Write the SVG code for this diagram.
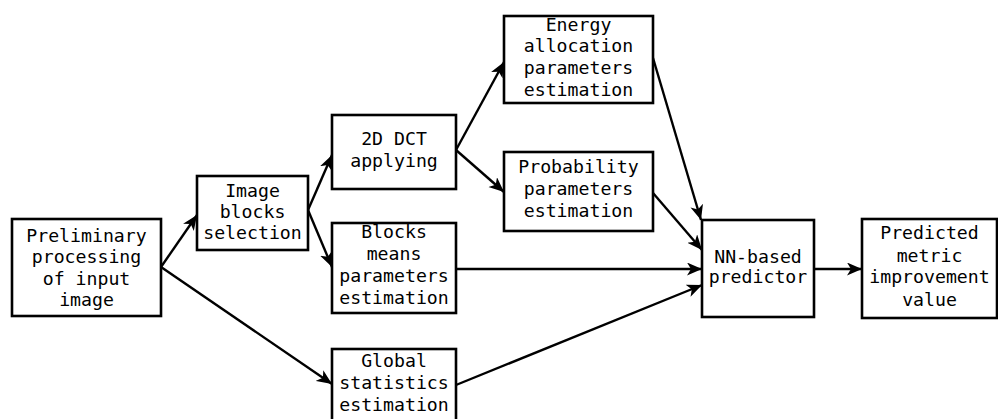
<svg xmlns="http://www.w3.org/2000/svg" width="998" height="419" viewBox="0 0 998 419">
<defs>
<style>
.box{fill:#fff;stroke:#000;stroke-width:2.6}
.t{font-family:"DejaVu Sans Mono","Liberation Mono",monospace;font-size:18.2px;fill:#000;text-anchor:middle}
.c{fill:none;stroke:#000;stroke-width:2.4}
</style>
<marker id="ah" markerUnits="userSpaceOnUse" markerWidth="16" markerHeight="14" refX="15" refY="6.5" orient="auto">
<path d="M0,0 L15,6.5 L0,13 L4,6.5 z" fill="#000"/>
</marker>
</defs>
<rect width="998" height="419" fill="#fff"/>
<g id="connectors">
<line class="c" x1="161" y1="267" x2="197" y2="215" marker-end="url(#ah)"/>
<line class="c" x1="161" y1="267" x2="332" y2="384" marker-end="url(#ah)"/>
<line class="c" x1="308" y1="210" x2="332" y2="155" marker-end="url(#ah)"/>
<line class="c" x1="308" y1="210" x2="332" y2="267" marker-end="url(#ah)"/>
<line class="c" x1="456" y1="150" x2="504" y2="62" marker-end="url(#ah)"/>
<line class="c" x1="456" y1="150" x2="504" y2="192" marker-end="url(#ah)"/>
<line class="c" x1="653" y1="58" x2="701" y2="220" marker-end="url(#ah)"/>
<line class="c" x1="653" y1="193" x2="702" y2="250" marker-end="url(#ah)"/>
<line class="c" x1="456" y1="269" x2="702" y2="269" marker-end="url(#ah)"/>
<line class="c" x1="456" y1="385" x2="702" y2="285" marker-end="url(#ah)"/>
<line class="c" x1="814" y1="269" x2="862" y2="269" marker-end="url(#ah)"/>
</g>
<g id="prelim">
<rect class="box" x="12" y="219" width="149" height="97"/>
<text class="t" x="86.5" y="242">Preliminary</text>
<text class="t" x="86.5" y="263">processing</text>
<text class="t" x="86.5" y="284.5">of input</text>
<text class="t" x="86.5" y="305.5">image</text>
</g>
<g id="blocksel">
<rect class="box" x="197" y="176" width="111" height="74"/>
<text class="t" x="252.5" y="197">Image</text>
<text class="t" x="252.5" y="218">blocks</text>
<text class="t" x="252.5" y="239">selection</text>
</g>
<g id="dct">
<rect class="box" x="332" y="115" width="124" height="74"/>
<text class="t" x="394" y="145">2D DCT</text>
<text class="t" x="394" y="166.5">applying</text>
</g>
<g id="means">
<rect class="box" x="332" y="223" width="124" height="90"/>
<text class="t" x="394" y="238.3">Blocks</text>
<text class="t" x="394" y="260">means</text>
<text class="t" x="394" y="281.7">parameters</text>
<text class="t" x="394" y="303.5">estimation</text>
</g>
<g id="global">
<rect class="box" x="332" y="349" width="124" height="80"/>
<text class="t" x="394" y="366.7">Global</text>
<text class="t" x="394" y="389">statistics</text>
<text class="t" x="394" y="411">estimation</text>
</g>
<g id="energy">
<rect class="box" x="504" y="16" width="149" height="87"/>
<text class="t" x="578.5" y="30.7">Energy</text>
<text class="t" x="578.5" y="52.3">allocation</text>
<text class="t" x="578.5" y="74">parameters</text>
<text class="t" x="578.5" y="95.7">estimation</text>
</g>
<g id="prob">
<rect class="box" x="504" y="152" width="149" height="79"/>
<text class="t" x="578.5" y="173.3">Probability</text>
<text class="t" x="578.5" y="195">parameters</text>
<text class="t" x="578.5" y="216.7">estimation</text>
</g>
<g id="nn">
<rect class="box" x="702" y="220" width="112" height="97"/>
<text class="t" x="758" y="262.7">NN-based</text>
<text class="t" x="758" y="283.3">predictor</text>
</g>
<g id="predicted">
<rect class="box" x="862" y="219" width="135" height="99"/>
<text class="t" x="929.5" y="239.3">Predicted</text>
<text class="t" x="929.5" y="262">metric</text>
<text class="t" x="929.5" y="283.3">improvement</text>
<text class="t" x="929.5" y="306">value</text>
</g>
</svg>
